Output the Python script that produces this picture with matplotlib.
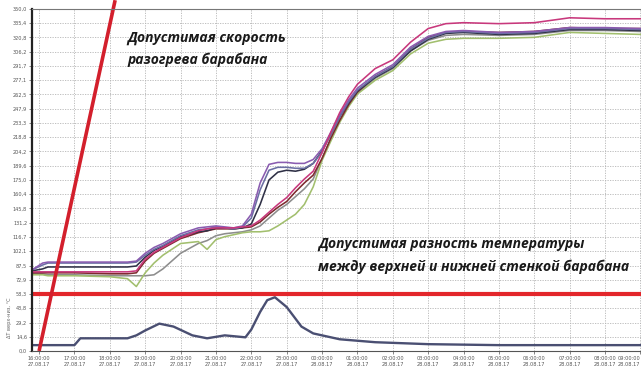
import matplotlib
matplotlib.use("Agg")
import matplotlib.pyplot as plt
import matplotlib.dates as mdates
import numpy as np
import pandas as pd

# time stamps of the drum wall thermocouple log
clock = ["15:48", "16:06", "16:15", "17:00", "18:00", "18:30", "18:45", "19:00", "19:15", "19:30",
         "20:00", "20:30", "20:45", "21:00", "21:15", "21:30", "21:45", "22:00", "22:15", "22:30",
         "22:45", "23:00", "23:15", "23:30", "23:45", "00:00", "00:15", "00:30", "00:45", "01:00",
         "01:30", "02:00", "02:30", "03:00", "03:30", "04:00", "05:00", "06:00", "07:00", "08:00", "09:00"]

# wall temperatures, °C
t_violet = [83, 90, 91, 91, 91, 91, 92, 100, 106, 110, 120, 126, 127, 128, 127, 126, 128, 140, 172, 191,
            193, 193, 192, 192, 196, 207, 224, 242, 257, 269, 283, 293, 311, 322, 327, 328, 326, 327, 331, 331, 330]
t_slate = [83, 88, 90, 90, 90, 90, 91, 98, 104, 108, 118, 124, 125, 127, 126, 125, 127, 136, 165, 185,
           188, 188, 187, 187, 192, 204, 222, 240, 255, 267, 281, 291, 309, 320, 326, 327, 325, 326, 330, 330, 329]
t_navy = [82, 84, 86, 86, 86, 86, 87, 96, 103, 107, 117, 122, 123, 126, 126, 125, 126, 130, 150, 175,
          183, 185, 184, 186, 192, 205, 222, 240, 254, 266, 280, 290, 307, 319, 325, 326, 324, 325, 329, 329, 328]
t_brown = [80, 80, 80, 80, 79, 79, 80, 92, 100, 105, 115, 121, 123, 125, 125, 125, 126, 127, 132, 140,
           147, 153, 163, 172, 180, 197, 218, 236, 252, 265, 281, 291, 309, 321, 326, 327, 326, 327, 331, 330, 330]
t_green = [78, 78, 77, 77, 76, 74, 66, 80, 90, 98, 110, 112, 104, 114, 117, 119, 121, 122, 122, 123,
           128, 134, 140, 150, 168, 195, 215, 234, 250, 263, 277, 287, 304, 315, 319, 320, 320, 321, 326, 325, 324]
t_magenta = [81, 81, 81, 81, 81, 81, 82, 94, 101, 106, 116, 123, 125, 126, 126, 126, 127, 128, 134, 142,
             150, 157, 167, 176, 184, 203, 224, 244, 260, 273, 289, 298, 316, 330, 335, 336, 335, 336, 341, 340, 340]
t_gray = [79, 79, 78, 78, 77, 77, 77, 77, 78, 84, 100, 110, 113, 118, 120, 121, 122, 124, 128, 136,
          144, 150, 158, 166, 176, 197, 217, 236, 252, 264, 279, 289, 307, 318, 323, 324, 323, 324, 328, 328, 327]

# top/bottom wall difference
dt_clock = ["15:48", "16:06", "17:00", "17:10", "18:30", "18:45", "19:00", "19:24", "19:48", "20:20",
            "20:45", "21:15", "21:50", "22:00", "22:15", "22:27", "22:40", "23:00", "23:25", "23:45",
            "00:30", "01:30", "03:00", "05:00", "07:00", "09:00"]
dt_values = [6, 6, 6, 13, 13, 16, 21, 28, 25, 16, 13, 16, 14, 22, 40, 52, 55, 45, 25, 18, 12, 9, 7, 6, 6, 6]

# limits
dt_limit = 58.3
rate_clock = ["16:00", "18:09"]
rate_values = [0, 359]

y_max = 350.0
y_step = y_max / 24


def stamps(hhmm_list):
    out = []
    day = 27
    prev = -1
    for s in hhmm_list:
        h = int(s[:2])
        if h < prev:
            day += 1
        prev = h
        out.append(pd.Timestamp(f"2017-08-{day:02d} {s}"))
    return out


t = stamps(clock)
t_dt = stamps(dt_clock)
t_rate = stamps(rate_clock)

fig = plt.figure(figsize=(6.41, 3.69), dpi=100)
ax = fig.add_axes([32 / 641, 1 - 351 / 369, 1 - 32 / 641, 342 / 369])

series = [
    (t_gray, "#8d8d8d"),
    (t_green, "#a2bf6e"),
    (t_brown, "#7d2a2e"),
    (t_navy, "#2f3046"),
    (t_slate, "#6b6fa3"),
    (t_violet, "#8a5cb0"),
    (t_magenta, "#c8387c"),
]
for vals, col in series:
    ax.plot(t, vals, color=col, lw=1.15)

ax.plot(t_dt, dt_values, color="#4a4f72", lw=1.7)

ax.axhline(dt_limit, color="#e3262b", lw=3.0)
ax.plot(t_rate, rate_values, color="#d31f2c", lw=2.6, clip_on=False, solid_capstyle="butt")

ax.set_xlim(pd.Timestamp("2017-08-27 15:48"), pd.Timestamp("2017-08-28 09:01"))
ax.set_ylim(0, y_max)

yt = np.arange(25) * y_step
ax.set_yticks(yt)
ax.set_yticklabels([f"{v:.1f}".replace(".", ",") for v in yt])
ax.xaxis.set_major_locator(mdates.HourLocator())
ax.xaxis.set_major_formatter(mdates.DateFormatter("%H:%M:%S\n%d.%m.%y"))
ax.tick_params(axis="both", labelsize=3.6, colors="#555555", length=2, width=0.5, pad=1.5)
fig.canvas.draw()
ax.get_xticklabels()[-1].set_horizontalalignment("right")

ax.grid(True, color="#b5b5b5", lw=0.6, linestyle=(0, (1.5, 1.5)))
ax.set_axisbelow(True)

ax.spines["left"].set_linewidth(1.6)
ax.spines["left"].set_color("#222222")
ax.spines["bottom"].set_color("#555555")
ax.spines["top"].set_color("#777777")
ax.spines["right"].set_visible(False)

fig.text(0.015, 0.14, "ΔT верх-низ, °С", rotation=90, fontsize=3.6, color="#666666",
         ha="center", va="center")

txt = dict(fontsize=10, fontweight="bold", fontstyle="italic", color="#1a1a1a",
           family=["Open Sans", "DejaVu Sans"], transform=ax.transAxes, va="top", ha="left",
           linespacing=1.7)
ax.text(0.156, 0.936, "Допустимая скорость\nразогрева барабана", **txt)
ax.text(0.470, 0.333, "Допустимая разность температуры\nмежду верхней и нижней стенкой барабана", **txt)

fig.savefig("out.png", dpi=100)
